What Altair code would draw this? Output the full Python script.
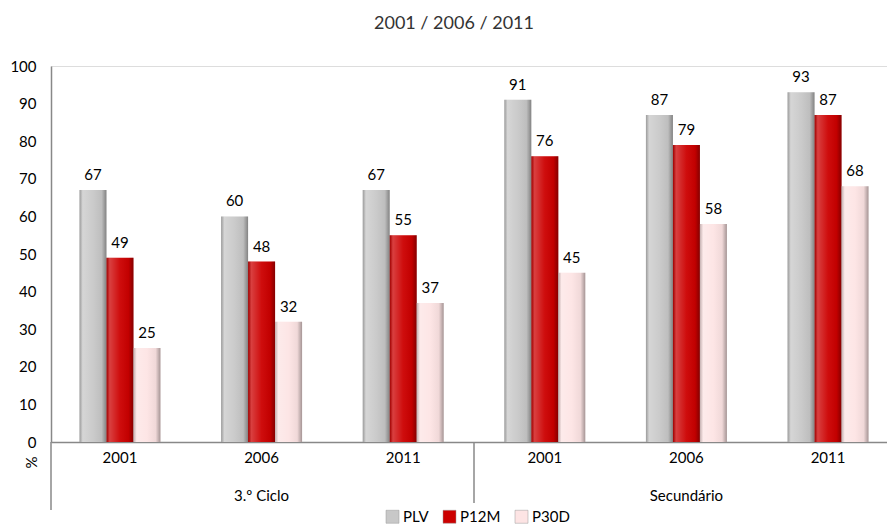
import altair as alt
import pandas as pd

groups = ["3.º Ciclo", "Secundário"]
years = ["2001", "2006", "2011"]
series = ["PLV", "P12M", "P30D"]
colors = ["#c8c8c8", "#cc0000", "#fde4e4"]

plv = [67, 60, 67, 91, 87, 93]
p12m = [49, 48, 55, 76, 79, 87]
p30d = [25, 32, 37, 45, 58, 68]

cats = [f"{g}|{y}" for g in groups for y in years]
rows = []
for i, c in enumerate(cats):
    for s, vals in zip(series, [plv, p12m, p30d]):
        rows.append({"cat": c, "series": s, "value": vals[i]})
df = pd.DataFrame(rows)

grp_df = pd.DataFrame({"cat": [f"{g}|2006" for g in groups], "label": groups})
div_df = pd.DataFrame({"cat": ["Secundário|2001"]})

FONT = "Lato"

xscale = alt.Scale(domain=cats, range=[0, 846], paddingInner=0.428, paddingOuter=0.201)

x = alt.X("cat:N", sort=cats, scale=xscale, title=None,
          axis=alt.Axis(labelExpr="split(datum.value, '|')[1]", ticks=False,
                        labelPadding=8, labelFontSize=15, labelFont=FONT,
                        labelColor="#000000", domainColor="#888888", domainWidth=1.5,
                        labelAngle=0))
xoff = alt.XOffset("series:N", sort=series, scale=alt.Scale(paddingInner=0, paddingOuter=0))
y = alt.Y("value:Q", scale=alt.Scale(domain=[0, 100]),
          axis=alt.Axis(values=list(range(0, 101, 10)), ticks=False, grid=False,
                        labelPadding=15, labelFontSize=15, labelFont=FONT,
                        labelColor="#000000", domainColor="#888888", domainWidth=1.5,
                        title="%", titleAngle=270, titleX=-12, titleY=396,
                        titleFont=FONT, titleFontSize=15, titleFontWeight="normal",
                        titleColor="#000000"))

base = alt.Chart(df).encode(x=x, xOffset=xoff, y=y)

bars = base.mark_bar(size=27).encode(
    color=alt.Color("series:N", sort=series,
                    scale=alt.Scale(domain=series, range=colors),
                    legend=alt.Legend(title=None, orient="none", direction="horizontal",
                                      legendX=334, legendY=443, symbolType="square",
                                      symbolSize=169, symbolStrokeWidth=0.5,
                                      symbolStrokeColor="#999999",
                                      labelFont=FONT, labelFontSize=15, labelColor="#000000",
                                      labelOffset=3, columnPadding=13)))

shine = base.mark_bar(
    fill=alt.Gradient(gradient="linear", x1=0, x2=1, y1=0, y2=0, stops=[
        alt.GradientStop(color="rgba(0,0,0,0.22)", offset=0),
        alt.GradientStop(color="rgba(255,255,255,0.25)", offset=0.12),
        alt.GradientStop(color="rgba(255,255,255,0.05)", offset=0.5),
        alt.GradientStop(color="rgba(0,0,0,0.05)", offset=0.82),
        alt.GradientStop(color="rgba(0,0,0,0.35)", offset=1),
    ]))

labels = base.mark_text(baseline="bottom", dy=-7, font=FONT, fontSize=15, color="#000000").encode(
    text=alt.Text("value:Q"))

grp_labels = alt.Chart(grp_df).mark_text(font=FONT, fontSize=15, color="#000000",
                                         baseline="middle").encode(
    x=alt.X("cat:N", sort=cats, scale=xscale),
    y=alt.value(430), text="label:N")

left_ext = alt.Chart(div_df).mark_rule(color="#888888", strokeWidth=1.5).encode(
    x=alt.value(0), y=alt.value(376), y2=alt.value(444))
mid_div = alt.Chart(div_df).mark_rule(color="#888888", strokeWidth=1.5).encode(
    x=alt.value(423), y=alt.value(376), y2=alt.value(437))

chart = alt.layer(bars, shine, labels, grp_labels, left_ext, mid_div).properties(
    width=836, height=376,
    autosize=alt.AutoSizeParams(type="none"),
    padding={"left": 51, "top": 66, "right": 0, "bottom": 84},
    title=alt.TitleParams(text="2001 / 2006 / 2011", font=FONT, fontSize=18,
                          fontWeight="normal", color="#333333", anchor="middle",
                          dx=-15, offset=26),
).configure_view(stroke=None).configure(background="white")

chart.save("out.html", embed_options={"renderer": "svg", "actions": False})
